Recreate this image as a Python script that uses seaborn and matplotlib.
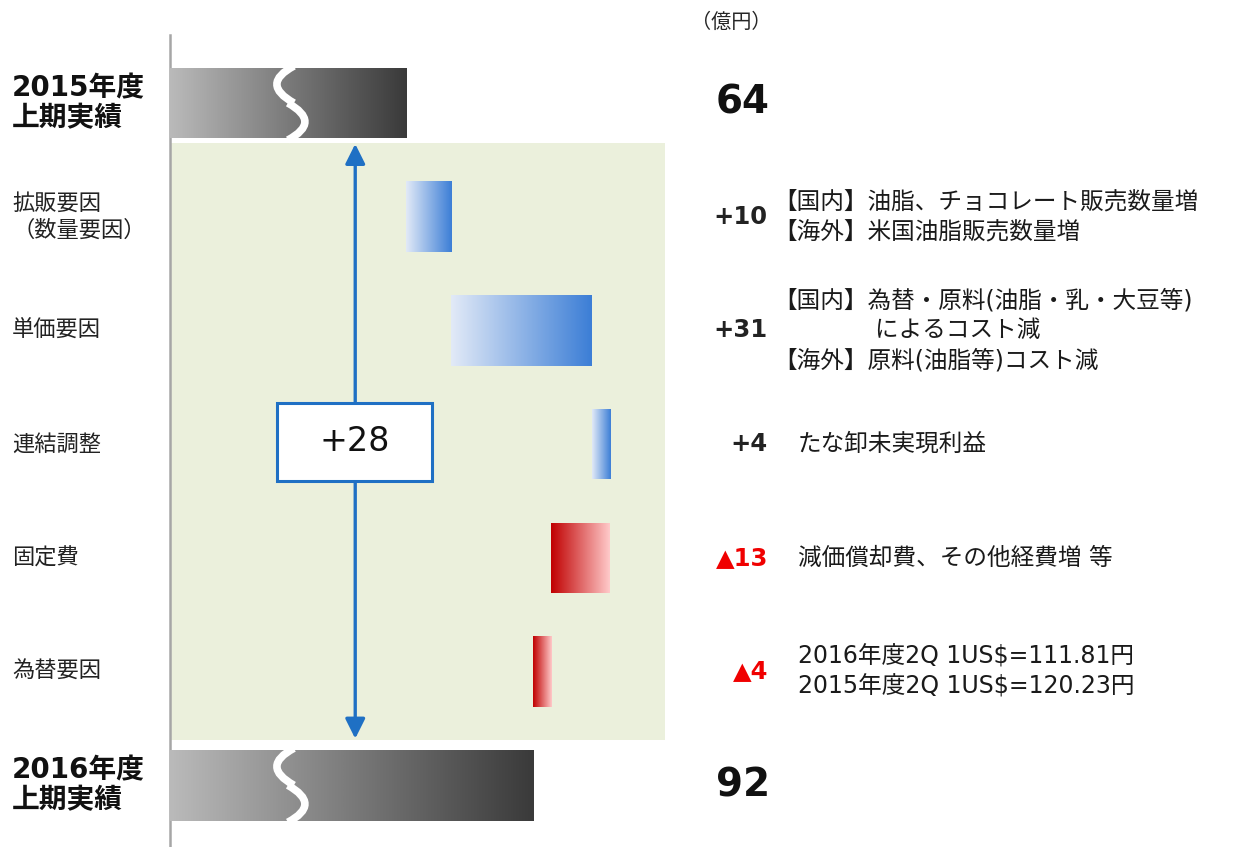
import numpy as np
import pandas as pd
import matplotlib
matplotlib.use("Agg")
import matplotlib.pyplot as plt
from matplotlib.colors import LinearSegmentedColormap
from matplotlib.patches import Rectangle, PathPatch
from matplotlib.path import Path
import seaborn as sns

# ---- data (億円) ----
steps = ['2015年度\n上期実績', '拡販要因\n（数量要因）', '単価要因', '連結調整',
         '固定費', '為替要因', '2016年度\n上期実績']
start_total = 64
changes = [10, 31, 4, -13, -4]
end_total = 92
value_labels = ['64', '+10', '+31', '+4', '▲13', '▲4', '92']
notes = ['',
         '【国内】油脂、チョコレート販売数量増\n【海外】米国油脂販売数量増',
         '【国内】為替・原料(油脂・乳・大豆等)\n　　　　 によるコスト減\n【海外】原料(油脂等)コスト減',
         'たな卸未実現利益',
         '減価償却費、その他経費増 等',
         '2016年度2Q 1US$=111.81円\n2015年度2Q 1US$=120.23円',
         '']
unit_label = '（億円）'

# waterfall geometry from the data
lefts, sizes, kinds = [0], [start_total], ['total']
level = start_total
for c in changes:
    lefts.append(min(level, level + c))
    sizes.append(abs(c))
    kinds.append('up' if c > 0 else 'down')
    level += c
lefts.append(0)
sizes.append(end_total)
kinds.append('total')
df = pd.DataFrame({'step': steps, 'left': lefts, 'size': sizes, 'kind': kinds})

sns.set_theme(style="white")
plt.rcParams['font.family'] = ['DejaVu Sans', 'Noto Sans CJK JP']

fig = plt.figure(figsize=(12.35, 8.47), dpi=100)
ax = fig.add_axes([170 / 1235, 0, 530 / 1235, 812 / 847])

sns.barplot(data=df, x='size', y='step', orient='h', width=0.62,
            color='gray', linewidth=0, ax=ax)

XMIN, XMAX = 11.97, 128.8
YMIN, YMAX = 6.543, -0.598
ax.set_xlim(XMIN, XMAX)
ax.set_ylim(YMIN, YMAX)

cmaps = {
    'total': LinearSegmentedColormap.from_list('g', ['#bababa', '#3a3a3a']),
    'up': LinearSegmentedColormap.from_list('b', ['#e2eaf7', '#3c7ed6']),
    'down': LinearSegmentedColormap.from_list('r', ['#c00000', '#ffcaca']),
}
grad = np.linspace(0, 1, 256).reshape(1, -1)
bars = list(ax.patches)
for patch, left, kind in zip(bars, df['left'], df['kind']):
    patch.set_x(left)
    x0, y0 = patch.get_x(), patch.get_y()
    w, h = patch.get_width(), patch.get_height()
    im = ax.imshow(grad, cmap=cmaps[kind], aspect='auto', interpolation='bicubic',
                   extent=(max(x0, XMIN), x0 + w, y0 + h, y0), zorder=3)
    im.set_clip_path(patch)
    patch.set_facecolor('none')

# light green panel behind the change bars
ax.add_patch(Rectangle((XMIN, 0.352), 121.1 - XMIN, 5.6 - 0.352,
                       facecolor='#ebf0dc', edgecolor='none', zorder=0))

ax.set_xlim(XMIN, XMAX)
ax.set_ylim(YMIN, YMAX)

# break marks on the total bars
kx = (XMAX - XMIN) / 530.0
ky = (YMIN - YMAX) / 812.0
for i, kind in enumerate(df['kind']):
    if kind != 'total':
        continue
    xc = 38.4
    for pts in ([(4, -37), (-30, -19), (4, 0)], [(-2, 0), (32, 19), (-2, 37)]):
        verts = [(xc + dx * kx, i + dy * ky) for dx, dy in pts]
        p = Path(verts, [Path.MOVETO, Path.CURVE3, Path.CURVE3])
        ax.add_patch(PathPatch(p, facecolor='none', edgecolor='white', lw=5.5,
                               capstyle='butt', zorder=4))

# total change arrow and box
blue = '#1f70c4'
xa = 52.8
ax.annotate('', xy=(xa, 0.36), xytext=(xa, 5.59),
            arrowprops=dict(arrowstyle='<|-|>,head_length=0.5,head_width=0.25',
                            color=blue, lw=2.4, mutation_scale=24,
                            shrinkA=0, shrinkB=0), zorder=5)
ax.add_patch(Rectangle((35.6, 2.64), 34.1, 0.68, facecolor='white',
                       edgecolor=blue, lw=2.2, zorder=6))
ax.text(52.65, 2.98, f'+{end_total - start_total}', ha='center', va='center',
        fontsize=24, zorder=7, color='#111111')

# axis styling
ax.set_xticks([])
ax.set_yticks([])
ax.set_xlabel('')
ax.set_ylabel('')
for s in ['top', 'right', 'bottom']:
    ax.spines[s].set_visible(False)
ax.spines['left'].set_color('#a6a6a6')
ax.spines['left'].set_linewidth(1.8)

# row labels, values and notes
tr = ax.get_yaxis_transform()
for i, (step, val, note, kind) in enumerate(zip(steps, value_labels, notes, kinds)):
    if kind == 'total':
        ax.text(-0.298, i, step, transform=tr, ha='left', va='center',
                fontsize=20, fontweight='bold', linespacing=1.1, color='#111111')
        ax.text(1.132, i, val, transform=tr, ha='right', va='center',
                fontsize=28, fontweight='bold', color='#111111')
    else:
        ax.text(-0.298, i, step, transform=tr, ha='left', va='center',
                fontsize=16, linespacing=1.3, color='#222222')
        ax.text(1.128, i, val, transform=tr, ha='right', va='center',
                fontsize=17.5, fontweight='bold',
                color='#f00000' if kind == 'down' else '#222222')
        # full-width brackets carry their own side bearing
        x_note = 1.138 if note.startswith('【') else 1.185
        ax.text(x_note, i, note, transform=tr, ha='left', va='center',
                fontsize=17, linespacing=1.3, parse_math=False, color='#1a1a1a')

fig.text(731 / 1235, 1 - 22 / 847, unit_label, ha='center', va='center', fontsize=14.5)

fig.savefig('out.png', dpi=100)
